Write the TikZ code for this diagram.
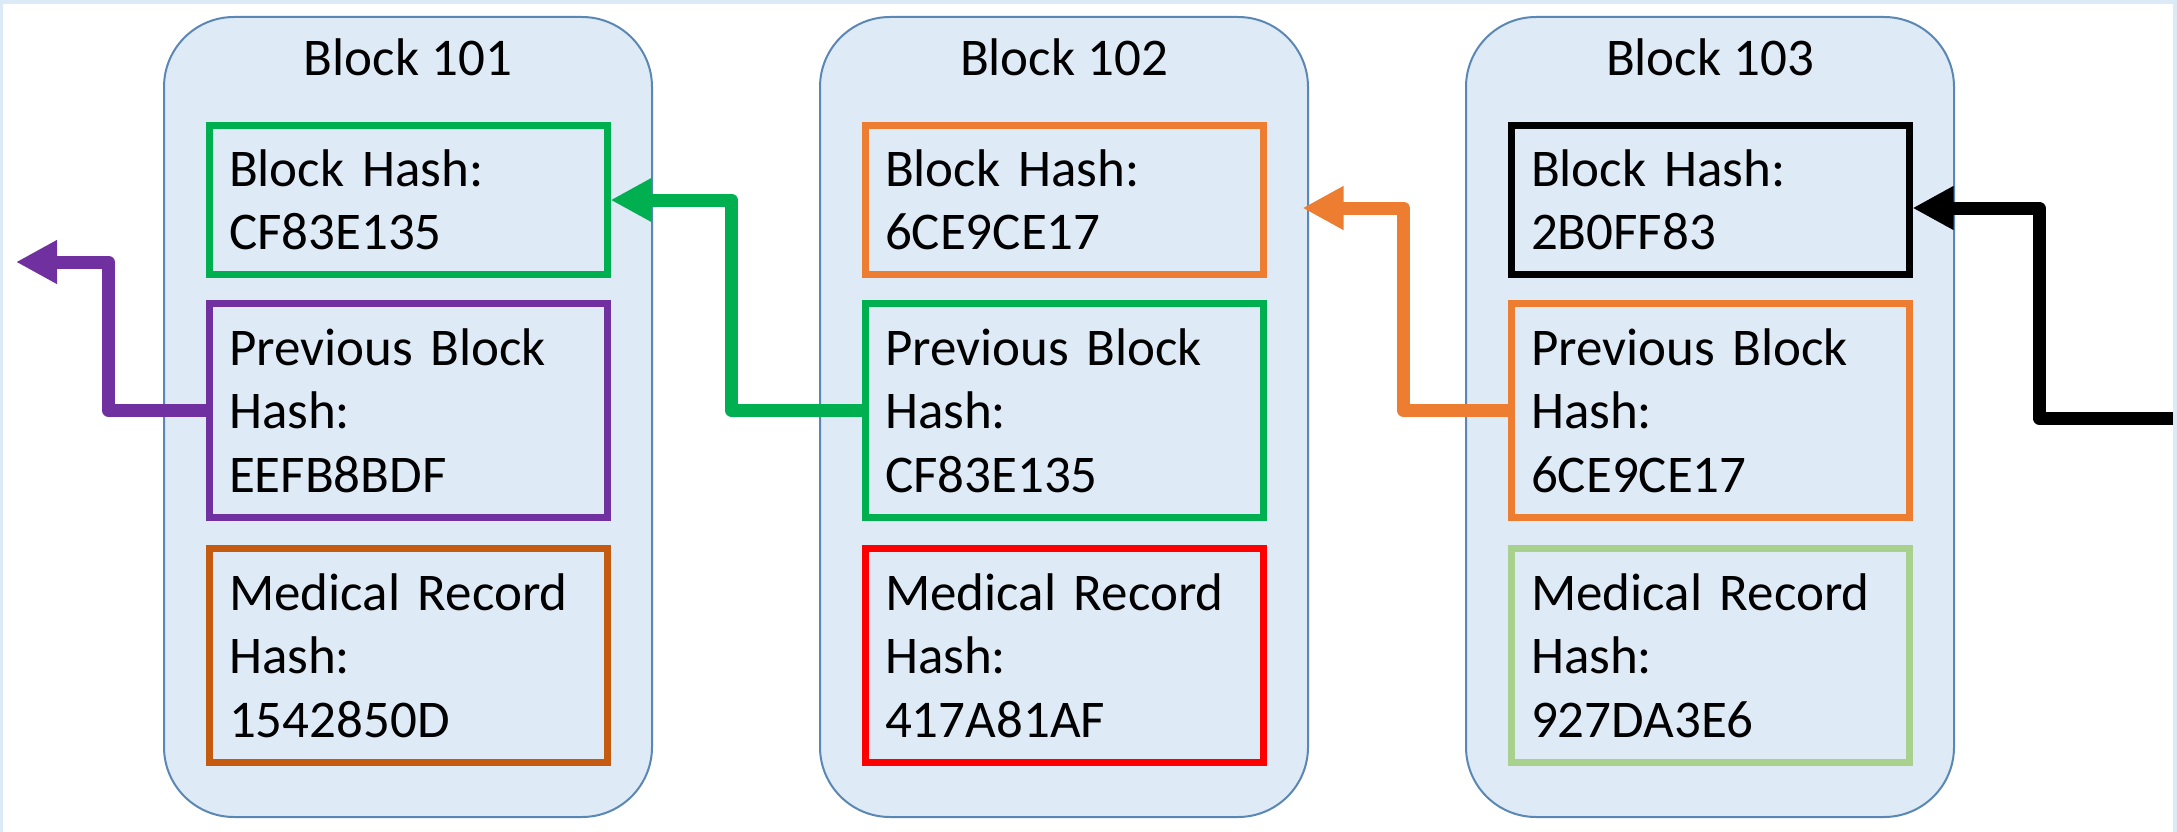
\documentclass[tikz,border=0pt]{standalone}
\usepackage{fontspec}
\setmainfont{Carlito}
\usetikzlibrary{positioning, arrows.meta}
\definecolor{blockfill}{HTML}{DEEBF7}
\definecolor{blockline}{HTML}{5B87B5}
\definecolor{hashgreen}{HTML}{00B050}
\definecolor{hashpurple}{HTML}{7030A0}
\definecolor{hashorange}{HTML}{ED7D31}
\definecolor{hashbrown}{HTML}{C55A11}
\definecolor{hashred}{HTML}{FF0000}
\definecolor{hashlime}{HTML}{A9D18E}
\definecolor{pageblue}{HTML}{DCE9F7}
\tikzset{
>={Triangle[length=41pt,width=41pt]}, % plain filled heads on the links
block/.style={draw=blockline, line width=2pt, fill=blockfill, rounded corners=70pt, minimum width=488pt, minimum height=800pt}, % one block of the chain
title/.style={anchor=base, font=\fontsize{53}{63.5}\selectfont},
field/.style={draw, line width=7pt, minimum width=398pt, text width=358pt, inner xsep=20pt, align=left, font=\fontsize{53}{63.5}\selectfont}, % a hash field inside a block
short/.style={field, minimum height=149pt},
tall/.style={field, minimum height=214pt},
link/.style={->, line width=13pt, line join=round}, % points back to the previous block
}

\begin{document}
\begin{tikzpicture}[x=1pt, y=-1pt]
\useasboundingbox (0,0) rectangle (2177,832);
\fill[pageblue] (0,0) rectangle (2177,832);
\fill[white] (3,4) rectangle (2173,832);

% blocks
\node[block] (b1) at (408,417) {};
\node[block, right=166pt of b1] (b2) {};
\node[block, right=156pt of b2] (b3) {};

\node[title] (t1) at ([yshift=-60pt]b1.north) {Block 101};
\node[title] (t2) at ([yshift=-60pt]b2.north) {Block 102};
\node[title] (t3) at ([yshift=-60pt]b3.north) {Block 103};

% fields of block 101
\node[short, draw=hashgreen] (h1) at ([yshift=-184pt]b1.north) {Block Hash:\\CF83E135};
\node[tall, draw=hashpurple, below=22pt of h1] (p1) {Previous Block\\Hash:\\EEFB8BDF};
\node[tall, draw=hashbrown, below=24pt of p1] (m1) {Medical Record\\Hash:\\1542850D};

% fields of block 102
\node[short, draw=hashorange] (h2) at ([yshift=-184pt]b2.north) {Block Hash:\\6CE9CE17};
\node[tall, draw=hashgreen, below=22pt of h2] (p2) {Previous Block\\Hash:\\CF83E135};
\node[tall, draw=hashred, below=24pt of p2] (m2) {Medical Record\\Hash:\\417A81AF};

% fields of block 103
\node[short, draw=black] (h3) at ([yshift=-184pt]b3.north) {Block Hash:\\2B0FF83};
\node[tall, draw=hashorange, below=22pt of h3] (p3) {Previous Block\\Hash:\\6CE9CE17};
\node[tall, draw=hashlime, below=24pt of p3] (m3) {Medical Record\\Hash:\\927DA3E6};

% links
\coordinate (gen) at (16,262);
\coordinate (tail) at (2173,418);
\draw[link, hashpurple] (p1.west) -- ++(-97,0) |- (gen);
\draw[link, hashgreen] (p2.west) -- ++(-130,0) |- (h1.east);
\draw[link, hashorange] (p3.west) -- ++(-104,0) |- ([shift={(36pt,-8pt)}]h2.east);
\draw[link, black] (tail) -- ++(-134,0) |- ([yshift=-8pt]h3.east);
\end{tikzpicture}
\end{document}
